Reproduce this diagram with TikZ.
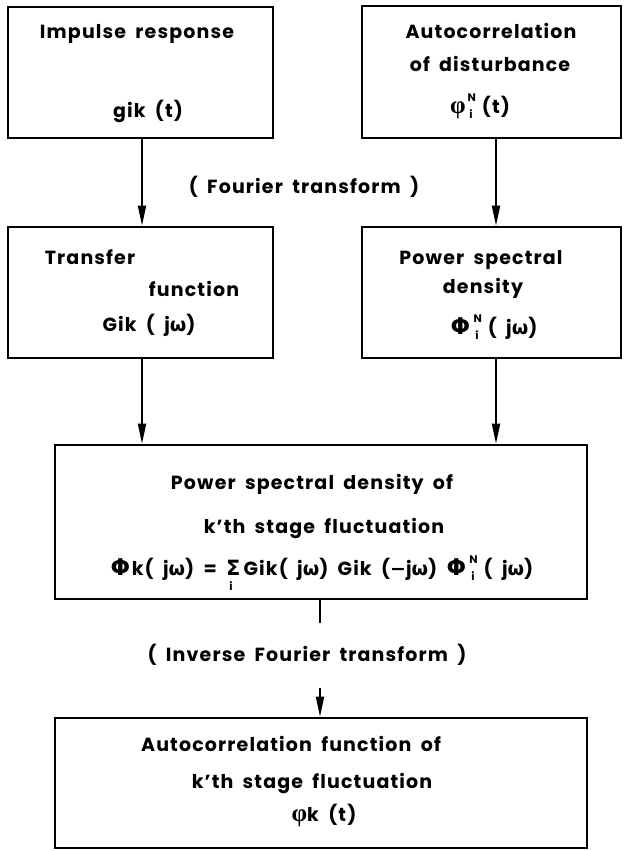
\documentclass[tikz,border=0pt]{standalone}
\usepackage{fontspec}
\setmainfont{Poppins}[LetterSpace=6,WordSpace=1.8]
\newfontfamily\gr{DejaVu Sans}
\newfontfamily\grs{Liberation Serif}
\newcommand\gPhi{{\gr\bfseries\fontsize{23}{24}\selectfont Φ}\hspace{0.08em}}
\newcommand\gphi{{\grs\bfseries\fontsize{25}{26}\selectfont φ}}
\newcommand\gom{{\gr\bfseries ω}}
\newcommand\gmin{{\gr\bfseries −}}
\newcommand\NI{\makebox[0.85em][l]{\hspace{0.1em}\rlap{\raisebox{0.62em}{\fontsize{11}{11}\selectfont N}}\raisebox{-0.28em}{\fontsize{11}{11}\selectfont\,i}}}
\newcommand\SUMI{\makebox[0pt][l]{\hspace{0.18em}\raisebox{-0.8em}{\fontsize{11}{11}\selectfont i}}{\gr\bfseries\fontsize{21}{22}\selectfont Σ}}
\usetikzlibrary{arrows.meta}
\begin{document}
\begin{tikzpicture}[x=1pt,y=-1pt,
  box/.style={draw, line width=2.6pt, inner sep=0pt},
  txt/.style={anchor=base, inner sep=0pt, font=\fontsize{19}{22}\selectfont\bfseries},
  ln/.style={line width=1.8pt},
  arr/.style={line width=1.8pt, -{Triangle[length=20pt,width=8pt]}}]
\useasboundingbox (0,0) rectangle (627,851);
% boxes
\node[box, minimum width=265pt, minimum height=131pt] (b1) at (140.5,72.5) {};
\node[box, minimum width=259pt, minimum height=132pt] (b2) at (491.5,72) {};
\node[box, minimum width=265pt, minimum height=131pt] (b3) at (140.5,292.5) {};
\node[box, minimum width=259pt, minimum height=131pt] (b4) at (491.5,292.5) {};
\node[box, minimum width=532pt, minimum height=154pt] (b5) at (321,522) {};
\node[box, minimum width=532pt, minimum height=130pt] (b6) at (321,783) {};
% texts
\node[txt] (t1a) at (137,39) {Impulse response};
\node[txt] (t1b) at (148,117) {gik (t)};
\node[txt] (t2a) at (491,39) {Autocorrelation};
\node[txt] (t2b) at (490,71) {of disturbance};
\node[txt] (t2c) at (480,113) {\gphi\NI(t)};
\node[txt] (ft) at (304,193) {( Fourier transform )};
\node[txt] (t3a) at (90,264) {Transfer};
\node[txt] (t3b) at (194,296) {function};
\node[txt] (t3c) at (149,331) {Gik ( j\gom)};
\node[txt] (t4a) at (481,264) {Power spectral};
\node[txt] (t4b) at (483,293) {density};
\node[txt] (t4c) at (494,334) {\gPhi\NI( j\gom )};
\node[txt] (t5a) at (312,489) {Power spectral density of};
\node[txt] (t5b) at (324,533) {k'th stage fluctuation};
\node[txt] (t5c) at (322,575) {\gPhi k( j\gom) = \SUMI\,Gik( j\gom) Gik (\gmin j\gom) \gPhi\NI( j\gom)};
\node[txt] (ift) at (307,661) {( Inverse Fourier transform )};
\node[txt] (t6a) at (291,751) {Autocorrelation function of};
\node[txt] (t6b) at (312,788) {k'th stage fluctuation};
\node[txt] (t6c) at (324,821) {\gphi k (t)};
% connectors
\coordinate (a1) at (142,0);
\coordinate (a2) at (496,0);
\coordinate (m1) at (320,623);
\coordinate (m2) at (320,688);
\draw[arr] (b1.south -| a1) -- (b3.north -| a1);
\draw[arr] (b2.south -| a2) -- (b4.north -| a2);
\draw[arr] (b3.south -| a1) -- (b5.north -| a1);
\draw[arr] (b4.south -| a2) -- (b5.north -| a2);
\draw[ln] (b5.south -| m1) -- (m1);
\draw[arr] (m2) -- (b6.north -| m2);
\end{tikzpicture}
\end{document}
